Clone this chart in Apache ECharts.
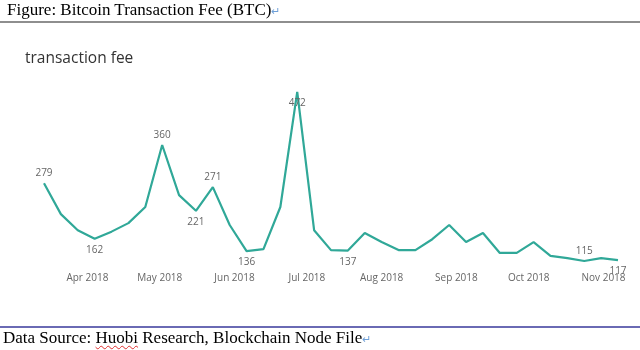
<!DOCTYPE html>
<html>
<head>
<meta charset="utf-8">
<script src="https://cdn.jsdelivr.net/npm/echarts@6/dist/echarts.min.js"></script>
<style>
  html, body { margin:0; padding:0; background:#fff; width:640px; height:350px; overflow:hidden; }
  #chart { position:absolute; left:0; top:0; width:640px; height:350px; }
  .doc { position:absolute; font-family:"Liberation Serif","Times New Roman",serif; font-size:17px; color:#000; white-space:nowrap; }
  .ret { color:#6fa0d8; font-size:11px; }
  .wavy { text-decoration: underline wavy #e03030; text-decoration-thickness:1px; text-underline-offset:2px; }
  .rule1 { position:absolute; left:0; top:21px; width:640px; height:2px; background:#8e8e8e; }
  .rule2 { position:absolute; left:0; top:326px; width:640px; height:2px; background:#6a6ab4; }
</style>
</head>
<body>
<div id="chart"></div>
<div class="doc" style="left:7px; top:0px;">Figure: Bitcoin Transaction Fee (BTC)<span class="ret">&#8629;</span></div>
<div class="rule1"></div>
<div class="rule2"></div>
<div class="doc" style="left:3px; top:328px;">Data Source: <span class="wavy">Huobi</span> Research, Blockchain Node File<span class="ret">&#8629;</span></div>
<script>
// weekly observation dates (first date, then one point per week)
const startDate = '2018-03-14';
const feeValues = [279,214,180,162,177,195,229,360,254,221,
                   271,191,136,140,229,472,180,138,137,174,
                   155,138,138,161,191,155,174,132,132,155,
                   126,121,115,121,117];
const tickDates = ['2018-04-01','2018-05-01','2018-06-01','2018-07-01','2018-08-01','2018-09-01','2018-10-01','2018-11-01'];
const tickLabels = ['Apr 2018','May 2018','Jun 2018','Jul 2018','Aug 2018','Sep 2018','Oct 2018','Nov 2018'];
// indices of points that carry a value label, and where
const labelTop = [0, 7, 10, 32];
const labelBottom = [3, 9, 12, 15, 18, 34];

const DAY = 86400000;
const t0 = Date.parse(startDate + 'T00:00:00Z');
const dates = feeValues.map((v, i) => t0 + i * 7 * DAY);
const tickTs = tickDates.map(d => Date.parse(d + 'T00:00:00Z'));

const seriesData = feeValues.map((v, i) => {
  const item = { value: [dates[i], v] };
  if (labelTop.includes(i)) item.label = { show: true, position: 'top', distance: 5 };
  if (labelBottom.includes(i)) item.label = { show: true, position: 'bottom', distance: 6 };
  if (i === feeValues.length - 1) item.label.offset = [-5, -7];
  return item;
});

const chart = echarts.init(document.getElementById('chart'), null, { renderer: 'canvas' });
chart.setOption({
  animation: false,
  backgroundColor: 'transparent',
  title: {
    text: 'transaction fee',
    left: 20, top: 46,
    textStyle: { fontFamily: 'Open Sans', fontSize: 15.5, fontWeight: 'normal', color: '#333333' }
  },
  grid: { left: 44, right: 22, top: 78.7, bottom: 81.9 },
  xAxis: {
    type: 'value',
    min: dates[0],
    max: dates[dates.length - 1],
    axisLine: { show: false },
    axisTick: { show: false },
    splitLine: { show: false },
    axisLabel: {
      customValues: tickTs,
      margin: 5,
      color: '#666666',
      fontFamily: 'Open Sans',
      fontSize: 10,
      formatter: function (val) {
        const idx = tickTs.indexOf(val);
        return idx >= 0 ? tickLabels[idx] : '';
      }
    }
  },
  yAxis: {
    type: 'value',
    min: 100, max: 500,
    show: false,
    splitLine: { show: false }
  },
  series: [{
    type: 'line',
    data: seriesData,
    showSymbol: true,
    symbol: 'circle',
    symbolSize: 0.5,
    lineStyle: { color: '#30a898', width: 2.2 },
    itemStyle: { color: 'rgba(0,0,0,0)', borderWidth: 0 },
    label: { show: false, color: '#666666', fontFamily: 'Open Sans', fontSize: 10,
      formatter: p => p.value[1] },
    labelLayout: { hideOverlap: false }
  }]
});
</script>
</body>
</html>
